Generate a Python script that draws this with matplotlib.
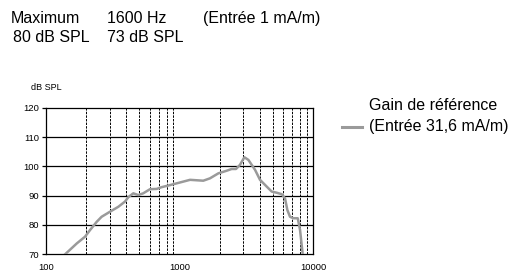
import numpy as np
import matplotlib
matplotlib.use("Agg")
import matplotlib.pyplot as plt
from matplotlib.lines import Line2D

plt.rcParams['font.family'] = ['Liberation Sans', 'DejaVu Sans']

#%% Données
freq = [139, 170, 196, 214, 240, 261, 301, 348, 391, 414, 451, 491, 535, 601,
        675, 735, 849, 1009, 1200, 1507, 1690, 1953, 2256, 2460, 2650, 2838,
        3062, 3281, 3682, 4011, 4500, 4907, 5349, 5832, 6170, 6427, 6730,
        7127, 7690, 8000, 8375]
gain = [70, 73.7, 76, 78.3, 81.1, 82.8, 84.5, 86.2, 88, 89.5, 90.8, 90.2, 90.8,
        92.2, 92.3, 92.9, 93.6, 94.5, 95.4, 95.1, 95.9, 97.6, 98.5, 99.1, 99.1,
        100.5, 103.1, 102.2, 98.8, 95.4, 93.1, 91.4, 91.0, 90.5, 89.1, 85.1,
        82.8, 82.3, 82.3, 78.3, 70]
yticks = [70, 80, 90, 100, 110, 120]
xticks = [100, 1000, 10000]
xtick_labels = ['100', '1000', '10000']

#%% Figure
fig = plt.figure(figsize=(5.11, 2.71), dpi=100)
ax = fig.add_axes([0.090, 0.0616, 0.5225, 0.541])

ax.set_xscale('log')
ax.set_xlim(100, 10000)
ax.set_ylim(70, 120)

# grille
for y in yticks[1:-1]:
    ax.axhline(y, color='black', lw=0.9, zorder=1)
minor = [m * d for d in (100, 1000) for m in range(2, 10)]
for x in minor:
    ax.axvline(x, color='black', lw=0.7, ls=(0, (2.5, 1.2)), zorder=1)

ax.plot(freq, gain, color='#9a9a9a', lw=1.8, zorder=3, solid_joinstyle='round')

ax.set_yticks(yticks)
ax.set_yticklabels([str(v) for v in yticks], fontsize=6.8)
ax.set_xticks(xticks)
ax.set_xticklabels(xtick_labels, fontsize=6.8)
ax.xaxis.set_minor_locator(matplotlib.ticker.NullLocator())
ax.tick_params(axis='y', length=3, width=0.9, pad=2)
ax.tick_params(axis='x', length=0, pad=6)
for s in ax.spines.values():
    s.set_linewidth(0.9)

#%% Textes
fig.text(46/511, 1 - 88/271, 'dB SPL', fontsize=6.5, ha='center', va='center')

fs = 11.5
fig.text(11/511, 1 - 19/271, 'Maximum', fontsize=fs, va='center')
fig.text(107/511, 1 - 19/271, '1600 Hz', fontsize=fs, va='center')
fig.text(203/511, 1 - 19/271, '(Entrée 1 mA/m)', fontsize=fs, va='center')
fig.text(13/511, 1 - 38/271, '80 dB SPL', fontsize=fs, va='center')
fig.text(107/511, 1 - 38/271, '73 dB SPL', fontsize=fs, va='center')

# légende
fig.add_artist(Line2D([342/511, 362/511], [1 - 127/271, 1 - 127/271],
                      color='#9a9a9a', lw=2.2))
fig.text(369/511, 1 - 106/271, 'Gain de référence', fontsize=fs, va='center')
fig.text(369/511, 1 - 127/271, '(Entrée 31,6 mA/m)', fontsize=fs, va='center')

fig.savefig('out.png', dpi=100)
